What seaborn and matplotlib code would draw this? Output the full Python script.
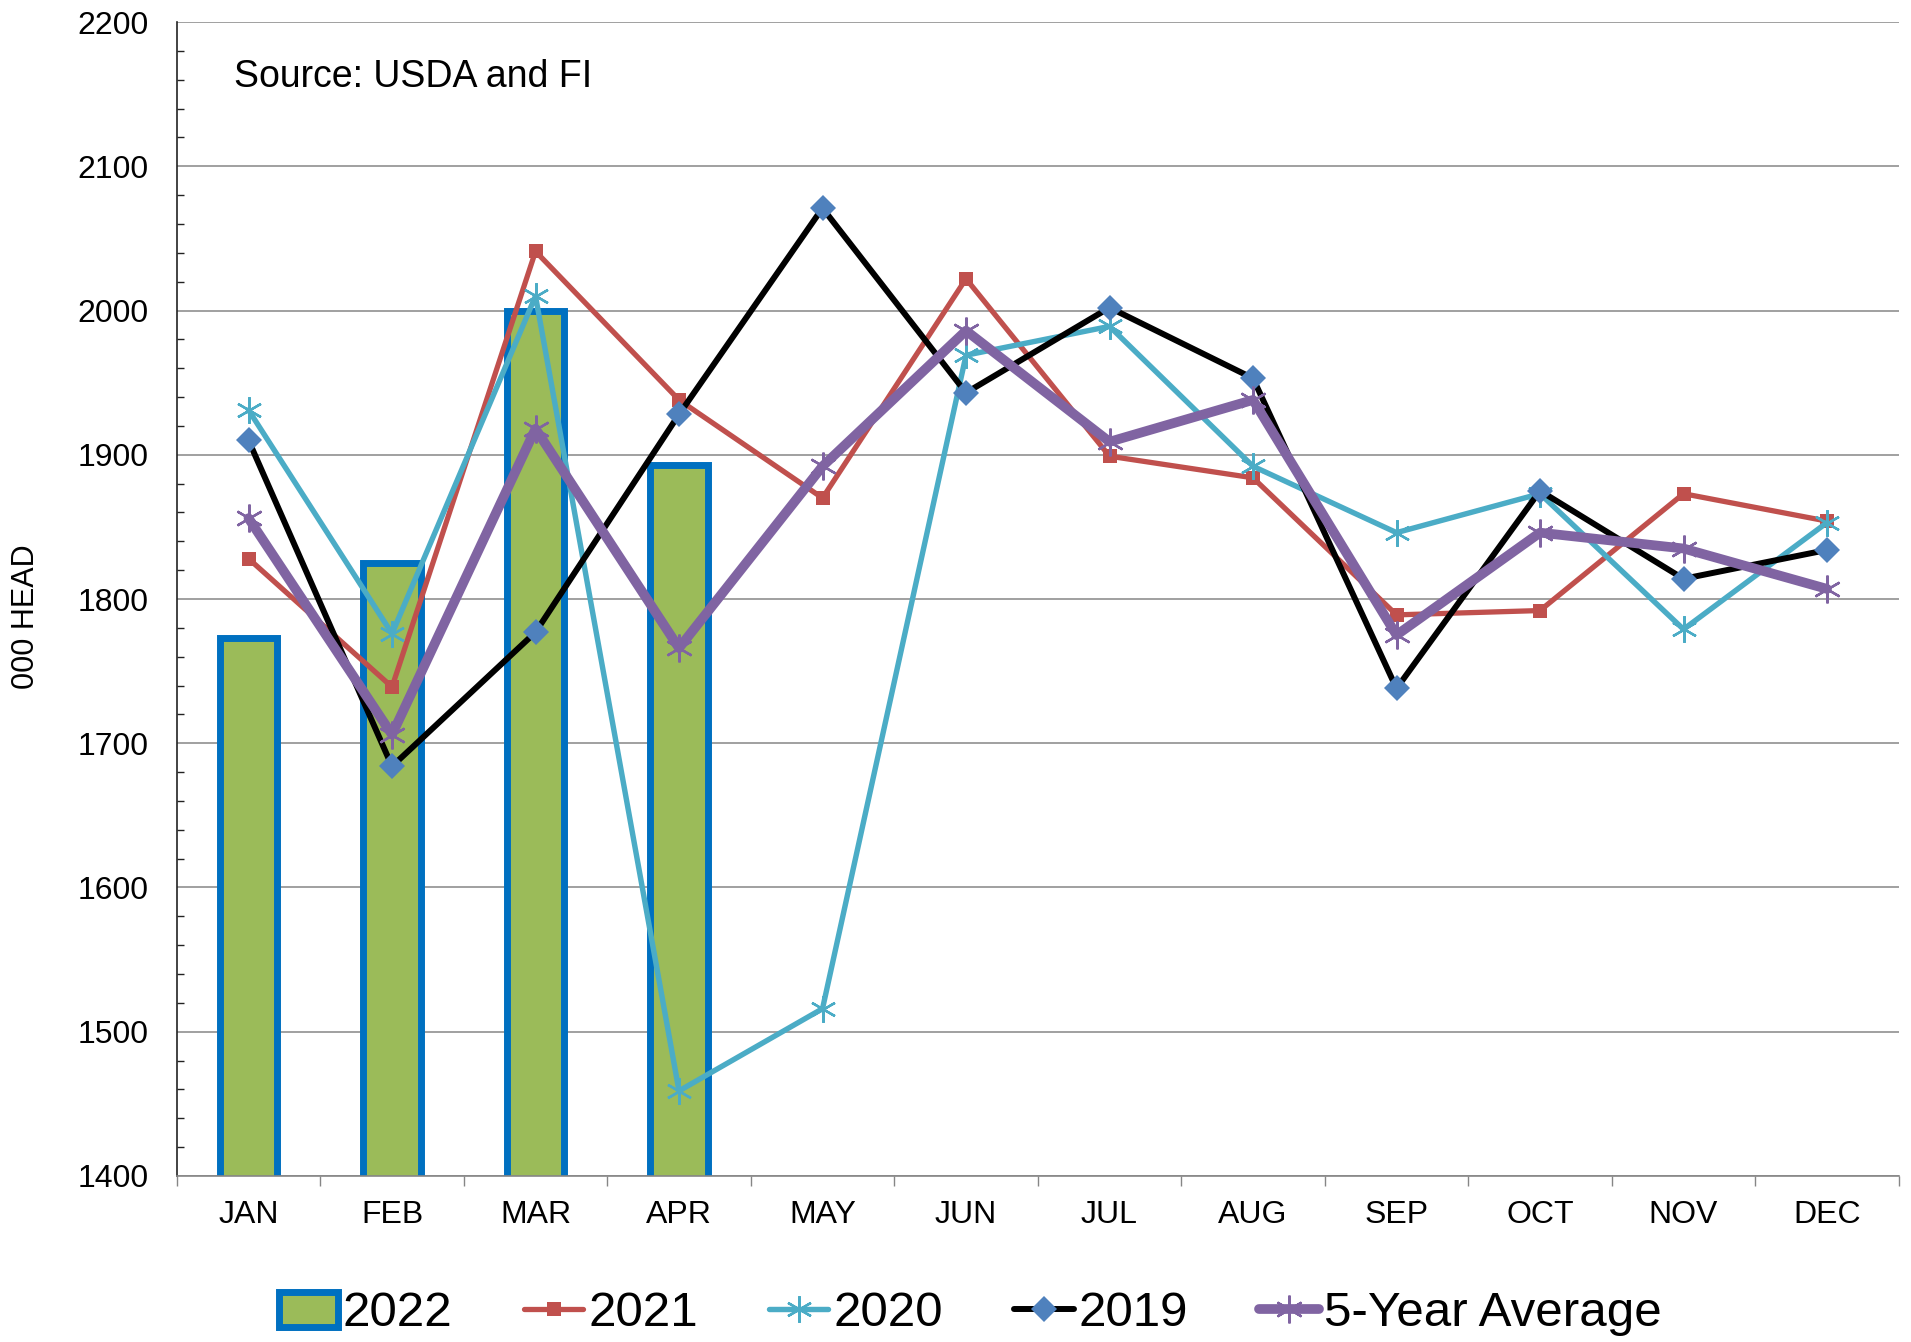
import numpy as np
import matplotlib
matplotlib.use("Agg")
import matplotlib.pyplot as plt
from matplotlib.ticker import MultipleLocator, FixedLocator
import seaborn as sns

months = ["JAN", "FEB", "MAR", "APR", "MAY", "JUN",
          "JUL", "AUG", "SEP", "OCT", "NOV", "DEC"]

# monthly values, 000 head
y2022 = [1773, 1825, 2000, 1893]
y2021 = [1828, 1739, 2041, 1938, 1870, 2022, 1899, 1884, 1789, 1792, 1873, 1854]
y2020 = [1931, 1776, 2010, 1459, 1516, 1969, 1989, 1892, 1846, 1873, 1779, 1853]
y2019 = [1910, 1684, 1777, 1928, 2071, 1943, 2002, 1953, 1738, 1875, 1814, 1834]
y5yr = [1856, 1706, 1918, 1766, 1892, 1986, 1909, 1938, 1775, 1846, 1835, 1807]

sns.set_theme(style="white")
plt.rcParams["font.family"] = ["Liberation Sans", "DejaVu Sans"]
plt.rcParams["text.color"] = "black"
plt.rcParams["axes.labelcolor"] = "black"

fig = plt.figure(figsize=(19.11, 13.42), dpi=100)
ax = fig.add_axes([0.0925, 0.1237, 0.9011, 0.8599])

# bars for current year
sns.barplot(x=months[:4], y=y2022, order=months, width=0.4, color="#9BBB59",
            saturation=1, edgecolor="#0070C0", linewidth=5, label="2022", ax=ax)

star = (6, 2, 0)

sns.pointplot(x=months, y=y2021, order=months, color="#C0504D", markers="s",
              linestyles="-", linewidth=3.8, markersize=9.5, markeredgewidth=0,
              errorbar=None, label="2021", ax=ax)
sns.pointplot(x=months, y=y2020, order=months, color="#4BACC6", markers=star,
              linestyles="-", linewidth=3.9, markersize=19, markeredgewidth=1.7,
              errorbar=None, label="2020", ax=ax)
sns.pointplot(x=months, y=y2019, order=months, color="black", markers="D",
              linestyles="-", linewidth=4.3, markersize=13, markeredgewidth=0,
              markerfacecolor="#4F81BD", markeredgecolor="#4F81BD",
              errorbar=None, label="2019", ax=ax)
sns.pointplot(x=months, y=y5yr, order=months, color="#8064A2", markers=star,
              linestyles="-", linewidth=7, markersize=20, markeredgewidth=1.7,
              errorbar=None, label="5-Year Average", ax=ax)

# axes styling
ax.set_xlim(-0.5, 11.5)
ax.set_ylim(1400, 2200)
ax.set_yticks(np.arange(1400, 2201, 100))
ax.yaxis.set_minor_locator(MultipleLocator(20))
ax.xaxis.set_minor_locator(FixedLocator(np.arange(-0.5, 12, 1)))
ax.set_xlabel("")
ax.set_ylabel("")

ax.set_axisbelow(True)
ax.yaxis.grid(True, color="#868686", linewidth=1.1)
ax.xaxis.grid(False)

for s in ["top", "right"]:
    ax.spines[s].set_visible(False)
ax.spines["left"].set_color("#222222")
ax.spines["left"].set_linewidth(1.2)
ax.spines["bottom"].set_color("#868686")
ax.spines["bottom"].set_linewidth(1.2)

ax.tick_params(axis="y", which="major", direction="out", length=7.2, width=1,
               color="#222222", pad=13, labelsize=23, labelcolor="black")
ax.tick_params(axis="y", which="minor", direction="in", length=4.8, width=1,
               color="#222222", left=True)
ax.tick_params(axis="x", which="major", length=0, pad=17, labelsize=23,
               labelcolor="black")
ax.tick_params(axis="x", which="minor", direction="out", length=7.2, width=1,
               color="#868686", bottom=True)

fig.text(26 / 1911, 1 - 617 / 1342, "000 HEAD", rotation=90,
         ha="center", va="center", fontsize=22)
fig.text(234 / 1911, 1 - 77 / 1342, "Source: USDA and FI",
         ha="left", va="center", fontsize=27)

handles, labels = ax.get_legend_handles_labels()
if ax.get_legend() is not None:
    ax.get_legend().remove()
legend_order = ["2022", "2021", "2020", "2019", "5-Year Average"]
lookup = dict(zip(labels, handles))
fig.legend([lookup[k] for k in legend_order], legend_order, loc="center",
           bbox_to_anchor=(970 / 1911, 1 - 1314 / 1342),
           ncol=5, frameon=False, fontsize=35.5, handlelength=1.2,
           handletextpad=0.1, columnspacing=1.45, borderpad=0)

fig.savefig("out.png", dpi=100)
